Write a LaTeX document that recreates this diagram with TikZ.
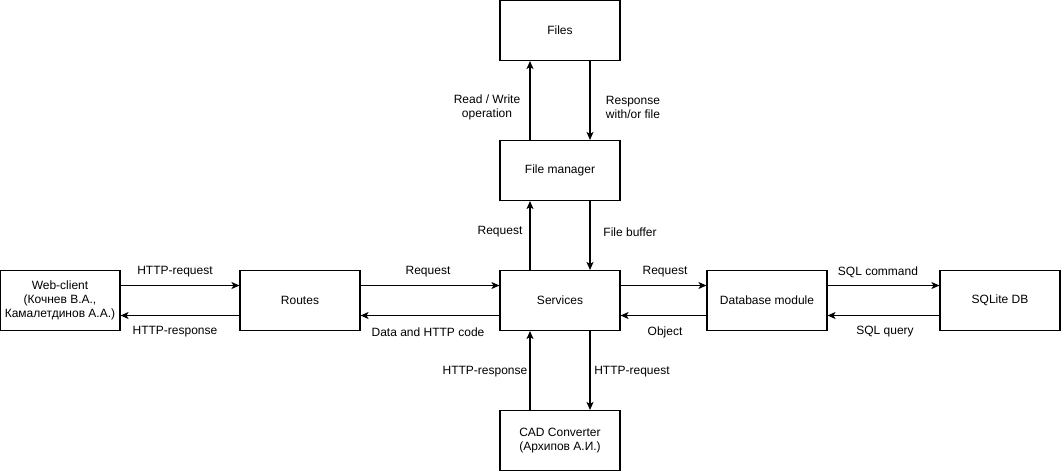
\documentclass[tikz,border=0pt]{standalone}
\usepackage{fontspec}
\setmainfont{Liberation Sans}
\usetikzlibrary{arrows.meta}
\begin{document}
\begin{tikzpicture}[x=1pt,y=-1pt,
  box/.style={draw,line width=1.1pt,minimum width=120pt,minimum height=60pt,inner sep=0pt,align=center,font=\fontsize{12}{14}\selectfont},
  lbl/.style={inner sep=0pt,align=center,font=\fontsize{12}{14}\selectfont},
  conn/.style={line width=1.1pt,-{Stealth[length=8pt,width=7pt,inset=2pt]}}]
\useasboundingbox (0,0) rectangle (1061,471);
\node[box] (files) at (560,30.5) {Files};
\node[box] (fm) at (560,170.5) {File manager};
\node[box] (svc) at (560,300.5) {Services};
\node[box] (cad) at (560,440.5) {CAD Converter\\(Архипов А.И.)};
\node[box] (web) at (60,300.5) {Web-client\\(Кочнев В.А.,\\Камалетдинов А.А.)};
\node[box] (routes) at (300,300.5) {Routes};
\node[box] (db) at (767,300.5) {Database module};
\node[box] (sql) at (1000,300.5) {SQLite DB};
% horizontal
\draw[conn] ([yshift=15pt]web.east) -- ([yshift=15pt]routes.west);
\draw[conn] ([yshift=-15pt]routes.west) -- ([yshift=-15pt]web.east);
\draw[conn] ([yshift=15pt]routes.east) -- ([yshift=15pt]svc.west);
\draw[conn] ([yshift=-15pt]svc.west) -- ([yshift=-15pt]routes.east);
\draw[conn] ([yshift=15pt]svc.east) -- ([yshift=15pt]db.west);
\draw[conn] ([yshift=-15pt]db.west) -- ([yshift=-15pt]svc.east);
\draw[conn] ([yshift=15pt]db.east) -- ([yshift=15pt]sql.west);
\draw[conn] ([yshift=-15pt]sql.west) -- ([yshift=-15pt]db.east);
% vertical
\draw[conn] ([xshift=-30pt]fm.north) -- ([xshift=-30pt]files.south);
\draw[conn] ([xshift=30pt]files.south) -- ([xshift=30pt]fm.north);
\draw[conn] ([xshift=-30pt]svc.north) -- ([xshift=-30pt]fm.south);
\draw[conn] ([xshift=30pt]fm.south) -- ([xshift=30pt]svc.north);
\draw[conn] ([xshift=-30pt]cad.north) -- ([xshift=-30pt]svc.south);
\draw[conn] ([xshift=30pt]svc.south) -- ([xshift=30pt]cad.north);
% labels
\node[lbl] (l1) at (175,272) {HTTP-request};
\node[lbl] (l2) at (175,332) {HTTP-response};
\node[lbl] (l3) at (428,272) {Request};
\node[lbl] (l4) at (428,332) {Data and HTTP code};
\node[lbl] (l5) at (665,272) {Request};
\node[lbl] (l6) at (665,332) {Object};
\node[lbl] (l7) at (878,272) {SQL command};
\node[lbl] (l8) at (885,332) {SQL query};
\node[lbl] (l9) at (487,107) {Read / Write\\operation};
\node[lbl] (l10) at (633,107) {Response\\with/or file};
\node[lbl] (l11) at (500,232) {Request};
\node[lbl] (l12) at (630,232) {File buffer};
\node[lbl] (l13) at (485,372) {HTTP-response};
\node[lbl] (l14) at (632,372) {HTTP-request};
\end{tikzpicture}
\end{document}
